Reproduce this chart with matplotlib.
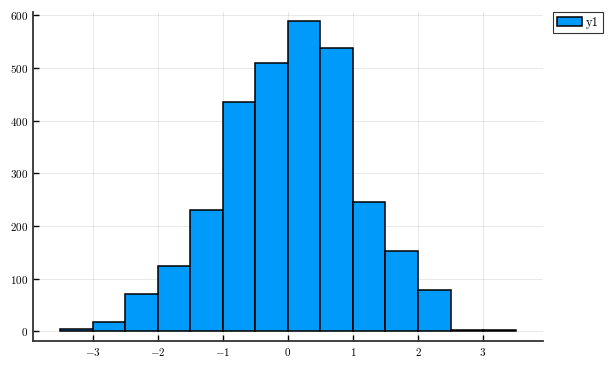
import matplotlib
matplotlib.use("Agg")
import matplotlib.pyplot as plt
import numpy as np

plt.rcParams["mathtext.fontset"] = "cm"
plt.rcParams["font.family"] = ["cmr10", "DejaVu Serif"]
plt.rcParams["axes.formatter.use_mathtext"] = True

# histogram bins (left edges, width 0.5) and counts
bin_edges = np.arange(-3.5, 3.51, 0.5)
counts = [4, 18, 71, 125, 230, 436, 510, 589, 537, 246, 152, 79, 3, 2]
x_ticks = [-3, -2, -1, 0, 1, 2, 3]
y_ticks = [0, 100, 200, 300, 400, 500, 600]

fig = plt.figure(figsize=(6.12, 3.65), dpi=100)
ax = fig.add_axes([0.054, 0.066, 0.833, 0.901])

ax.bar(bin_edges[:-1], counts, width=np.diff(bin_edges), align="edge",
       color="#009AFA", edgecolor="black", linewidth=1.1, label="y1", zorder=2)

ax.set_xlim(-3.92, 3.92)
ax.set_ylim(-18, 606)
ax.set_xticks(x_ticks)
ax.set_yticks(y_ticks)
ax.set_xticklabels([f"${v}$" if v >= 0 else f"$-{-v}$" for v in x_ticks])
ax.set_yticklabels([f"${v}$" for v in y_ticks])
ax.tick_params(direction="in", length=4, width=1, labelsize=8, colors="black")
ax.grid(True, color="black", alpha=0.1, linewidth=0.6, zorder=0)
ax.set_axisbelow(True)

for s in ("top", "right"):
    ax.spines[s].set_visible(False)
for s in ("left", "bottom"):
    ax.spines[s].set_linewidth(1.3)
    ax.spines[s].set_color("#333333")

leg = ax.legend(loc="upper left", bbox_to_anchor=(1.02, 1.0), fontsize=9,
                frameon=True, fancybox=False, edgecolor="black",
                handlelength=2.0, handleheight=0.7, borderpad=0.35,
                handletextpad=0.3, borderaxespad=0)
leg.get_frame().set_linewidth(0.8)

fig.savefig("out.png", dpi=100)
